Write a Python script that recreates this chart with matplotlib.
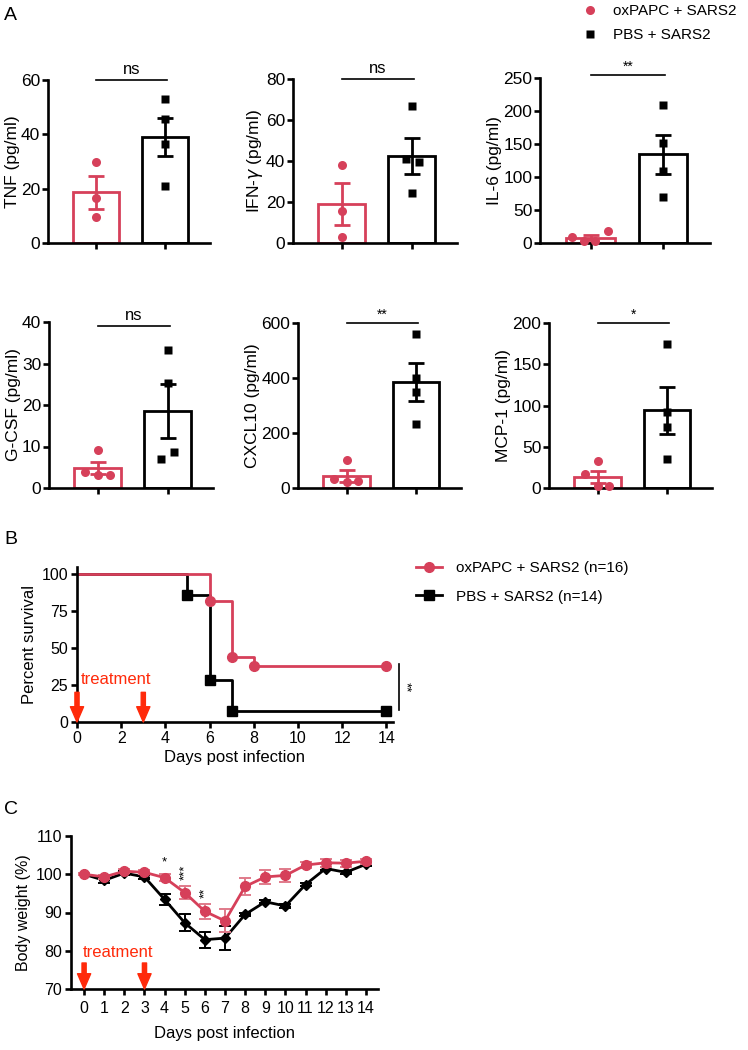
import matplotlib
matplotlib.use('Agg')
import matplotlib.pyplot as plt
from matplotlib.lines import Line2D

plt.rcParams['font.family'] = ['Liberation Sans', 'DejaVu Sans']
plt.rcParams['axes.linewidth'] = 1.9

W, H = 748, 1050
RED = '#d6405a'
ORANGE = '#ff2a0a'

# ---- panel A data (cytokines) ----
cyto_labels = ['TNF (pg/ml)', 'IFN-$\\gamma$ (pg/ml)', 'IL-6 (pg/ml)',
               'G-CSF (pg/ml)', 'CXCL10 (pg/ml)', 'MCP-1 (pg/ml)']
ox_points = [[29.8, 16.5, 9.5], [37.9, 15.7, 3.1], [9.0, 3.0, 3.0, 18.0],
             [9.1, 3.9, 3.1, 3.1], [101, 34, 20.7, 24], [32.9, 17.4, 2.4, 2.4]]
pbs_points = [[53.0, 45.5, 36.5, 20.8], [66.8, 40.8, 39.3, 24.3],
              [209, 152, 108.5, 70], [33.3, 25.2, 8.7, 6.9],
              [561, 401.6, 350, 232], [174.8, 92.5, 74.2, 35.3]]
ox_mean = [18.6, 18.9, 8.2, 4.8, 43, 13.6]
ox_sem = [6.0, 10.2, 3.3, 1.5, 21, 7.2]
pbs_mean = [39.0, 42.6, 134.5, 18.5, 386, 94]
pbs_sem = [6.9, 8.8, 29.5, 6.5, 68, 29]
y_max = [60, 80, 250, 40, 600, 200]
y_step = [20, 20, 50, 10, 200, 50]
signif = ['ns', 'ns', '**', 'ns', '**', '*']
signif_y = [60, 80, 254, 39, 600, 200]

# ---- panel B data (survival) ----
surv_days_ox = [0, 6, 7, 8, 14]
surv_ox = [100, 81.25, 43.75, 37.5, 37.5]
surv_days_pbs = [0, 5, 6, 7, 14]
surv_pbs = [100, 85.7, 28.6, 7.1, 7.1]

# ---- panel C data (body weight) ----
days = list(range(15))
bw_ox = [100, 99.3, 100.8, 100.5, 99.1, 95.2, 90.3, 87.8, 96.8, 99.3, 99.7, 102.4, 103.0, 102.9, 103.4]
bw_ox_err = [0.3, 0.5, 0.5, 0.5, 0.9, 1.7, 2.0, 3.0, 2.3, 1.9, 1.8, 0.8, 1.0, 0.9, 0.7]
bw_pbs = [100, 98.4, 100.3, 99.3, 93.4, 87.3, 82.9, 83.3, 89.5, 92.8, 91.7, 97.3, 101.5, 100.5, 102.6]
bw_pbs_err = [0.2, 0.7, 0.5, 0.5, 1.4, 2.2, 2.1, 3.2, 0.4, 0.4, 0.4, 0.4, 0.4, 0.4, 0.4]
bw_stars = {4: ('*', 103.2, 0), 5: ('***', 100.4, 90), 6: ('**', 95.2, 90)}


def px_axes(fig, left, top, right, bottom):
    return fig.add_axes([left / W, 1 - bottom / H, (right - left) / W, (bottom - top) / H])


def style_axes(ax, size, pad=2):
    ax.spines['top'].set_visible(False)
    ax.spines['right'].set_visible(False)
    ax.tick_params(width=1.9, length=4.5, labelsize=size, direction='out', pad=pad)


fig = plt.figure(figsize=(W / 100, H / 100), dpi=100)

# ---------------- panel A ----------------
rects = [(48, 80, 210, 243), (293, 79, 457, 243), (540, 78, 710, 243),
         (49, 322, 213, 488), (298, 323, 461, 488), (549, 323, 712, 488)]
jit_ox = [[0, 0, 0], [0, 0, 0], [-0.26, -0.09, 0.06, 0.24],
          [0, -0.18, 0, 0.17], [0, -0.18, 0, 0.17], [0, -0.18, 0, 0.17]]
jit_pbs = [[0, 0, 0, 0], [0, -0.08, 0.1, 0], [0, 0, 0, 0],
           [0, 0, 0.09, -0.09], [0, 0, 0, 0], [0, 0, 0, 0]]

for i, r in enumerate(rects):
    ax = px_axes(fig, *r)
    style_axes(ax, 12.5, pad=1)
    ax.bar([0], [ox_mean[i]], width=0.67, facecolor='white', edgecolor=RED, linewidth=2, zorder=1)
    ax.bar([1], [pbs_mean[i]], width=0.67, facecolor='white', edgecolor='black', linewidth=2, zorder=1)
    ax.errorbar([0], [ox_mean[i]], yerr=[ox_sem[i]], color=RED, capsize=5.5, elinewidth=2,
                capthick=2, fmt='none', zorder=2)
    ax.errorbar([1], [pbs_mean[i]], yerr=[pbs_sem[i]], color='black', capsize=5.5, elinewidth=2,
                capthick=2, fmt='none', zorder=2)
    ax.plot([0 + j for j in jit_ox[i]], ox_points[i], 'o', color=RED, ms=6.5, mec='none',
            zorder=3, clip_on=False)
    ax.plot([1 + j for j in jit_pbs[i]], pbs_points[i], 's', color='black', ms=6, mec='none',
            zorder=3, clip_on=False)
    ax.set_xlim(-0.7, 1.65)
    ax.set_ylim(0, y_max[i])
    ax.set_yticks(range(0, y_max[i] + 1, y_step[i]))
    ax.set_xticks([0, 1])
    ax.set_xticklabels([])
    ax.set_ylabel(cyto_labels[i], fontsize=12.5, labelpad=1)
    ax.plot([0, 1.03], [signif_y[i]] * 2, color='black', lw=1.2, clip_on=False)
    if signif[i] == 'ns':
        ax.text(0.52, signif_y[i] + y_max[i] * 0.02, 'ns', ha='center', va='bottom', fontsize=12)
    else:
        ax.text(0.52, signif_y[i] + y_max[i] * 0.01, signif[i], ha='center', va='bottom', fontsize=10)

fig.text(4 / W, 1 - 16 / H, 'A', fontsize=14, va='center', ha='left')
fig.legend(handles=[Line2D([], [], ls='none', marker='o', color=RED, ms=6.5, mec='none'),
                    Line2D([], [], ls='none', marker='s', color='black', ms=6, mec='none')],
           labels=['oxPAPC + SARS2', 'PBS + SARS2'], loc='upper left',
           bbox_to_anchor=(575 / W, 1 + 2 / H), frameon=False, fontsize=11,
           handlelength=1.2, handletextpad=0.9, labelspacing=0.65, borderaxespad=0)

# ---------------- panel B ----------------
axb = px_axes(fig, 77, 567, 393, 722)
style_axes(axb, 11.5)
axb.step(surv_days_pbs, surv_pbs, where='post', color='black', lw=2, zorder=2)
axb.plot(surv_days_pbs[1:], surv_pbs[1:], 's', color='black', ms=6.5, zorder=3, clip_on=False)
axb.step(surv_days_ox, surv_ox, where='post', color=RED, lw=2, zorder=2)
axb.plot(surv_days_ox[1:], surv_ox[1:], 'o', color=RED, ms=7, zorder=3, clip_on=False)
axb.set_xlim(0, 14.3)
axb.set_ylim(0, 104.5)
axb.set_xticks(range(0, 15, 2))
axb.set_yticks([0, 25, 50, 75, 100])
axb.set_xlabel('Days post infection', fontsize=12, labelpad=3)
axb.set_ylabel('Percent survival', fontsize=12, labelpad=3)
for d in (0, 3):
    axb.annotate('', xy=(d, 0), xytext=(d, 20),
                 arrowprops=dict(arrowstyle='simple,head_length=1.1,head_width=0.95,tail_width=0.3',
                                 color=ORANGE, mutation_scale=10, shrinkA=0, shrinkB=0),
                 annotation_clip=False, zorder=5)
axb.text(0.18, 28.5, 'treatment', color=ORANGE, fontsize=12, va='center', ha='left')
axb.plot([14.55, 14.55], [8.2, 38.8], color='black', lw=1.2, clip_on=False)
axb.text(14.85, 23.5, '**', rotation=-90, fontsize=9.5, ha='center', va='center')
fig.text(4 / W, 1 - 540 / H, 'B', fontsize=14, va='center', ha='left')
fig.legend(handles=[Line2D([], [], marker='o', color=RED, ms=7, lw=2),
                    Line2D([], [], marker='s', color='black', ms=6.5, lw=2)],
           labels=['oxPAPC + SARS2 (n=16)', 'PBS + SARS2 (n=14)'], loc='upper left',
           bbox_to_anchor=(410 / W, 1 - 555 / H), frameon=False, fontsize=11,
           handlelength=1.7, handletextpad=0.9, labelspacing=0.95, borderaxespad=0)

# ---------------- panel C ----------------
axc = px_axes(fig, 71, 836, 378, 989)
style_axes(axc, 11.5)
axc.errorbar(days, bw_pbs, yerr=bw_pbs_err, color='black', marker='D', ms=5, lw=2,
             capsize=4, elinewidth=1.4, capthick=1.4, zorder=2)
axc.errorbar(days, bw_ox, yerr=bw_ox_err, color=RED, marker='o', ms=7, lw=2,
             capsize=4, elinewidth=1.4, capthick=1.4, ecolor='#e07a8a', zorder=3)
axc.set_xlim(-0.65, 14.6)
axc.set_ylim(70, 110)
axc.set_xticks(days)
axc.set_yticks(range(70, 111, 10))
axc.tick_params(axis='x', labelsize=11.5, pad=4)
axc.set_xlabel('Days post infection', fontsize=12, labelpad=7)
axc.set_ylabel('Body weight (%)', fontsize=11.5, labelpad=3)
for d, (s, yv, rot) in bw_stars.items():
    axc.text(d, yv, s, rotation=rot, fontsize=9.5, ha='center', va='center')
for d in (0, 3):
    axc.annotate('', xy=(d, 70), xytext=(d, 76.8),
                 arrowprops=dict(arrowstyle='simple,head_length=1.1,head_width=0.95,tail_width=0.3',
                                 color=ORANGE, mutation_scale=10, shrinkA=0, shrinkB=0),
                 annotation_clip=False, zorder=5)
axc.text(-0.08, 79.5, 'treatment', color=ORANGE, fontsize=12, va='center', ha='left')
fig.text(4 / W, 1 - 809 / H, 'C', fontsize=14, va='center', ha='left')

fig.savefig('out.png', dpi=100)
